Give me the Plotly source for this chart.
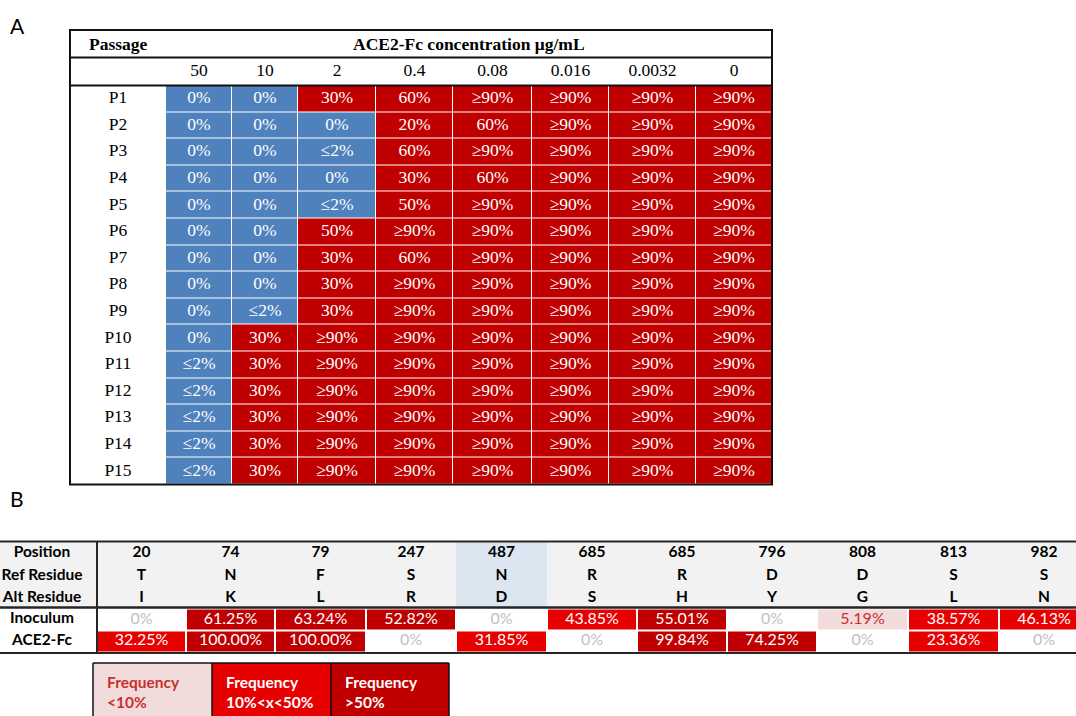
import plotly.graph_objects as go

# ---------------- Panel A: CPE per passage and ACE2-Fc concentration ----------------
concentrations = ["50", "10", "2", "0.4", "0.08", "0.016", "0.0032", "0"]
passages = ["P1", "P2", "P3", "P4", "P5", "P6", "P7", "P8",
            "P9", "P10", "P11", "P12", "P13", "P14", "P15"]
cpe_p1 = ["0%", "0%", "30%", "60%", "≥90%", "≥90%", "≥90%", "≥90%"]
cpe_p2 = ["0%", "0%", "0%", "20%", "60%", "≥90%", "≥90%", "≥90%"]
cpe_p3 = ["0%", "0%", "≤2%", "60%", "≥90%", "≥90%", "≥90%", "≥90%"]
cpe_p4 = ["0%", "0%", "0%", "30%", "60%", "≥90%", "≥90%", "≥90%"]
cpe_p5 = ["0%", "0%", "≤2%", "50%", "≥90%", "≥90%", "≥90%", "≥90%"]
cpe_p6 = ["0%", "0%", "50%", "≥90%", "≥90%", "≥90%", "≥90%", "≥90%"]
cpe_p7 = ["0%", "0%", "30%", "60%", "≥90%", "≥90%", "≥90%", "≥90%"]
cpe_p8 = ["0%", "0%", "30%", "≥90%", "≥90%", "≥90%", "≥90%", "≥90%"]
cpe_p9 = ["0%", "≤2%", "30%", "≥90%", "≥90%", "≥90%", "≥90%", "≥90%"]
cpe_p10 = ["0%", "30%", "≥90%", "≥90%", "≥90%", "≥90%", "≥90%", "≥90%"]
cpe_p11 = ["≤2%", "30%", "≥90%", "≥90%", "≥90%", "≥90%", "≥90%", "≥90%"]
cpe_p12 = ["≤2%", "30%", "≥90%", "≥90%", "≥90%", "≥90%", "≥90%", "≥90%"]
cpe_p13 = ["≤2%", "30%", "≥90%", "≥90%", "≥90%", "≥90%", "≥90%", "≥90%"]
cpe_p14 = ["≤2%", "30%", "≥90%", "≥90%", "≥90%", "≥90%", "≥90%", "≥90%"]
cpe_p15 = ["≤2%", "30%", "≥90%", "≥90%", "≥90%", "≥90%", "≥90%", "≥90%"]
cpe_table = [cpe_p1, cpe_p2, cpe_p3, cpe_p4, cpe_p5, cpe_p6, cpe_p7, cpe_p8,
             cpe_p9, cpe_p10, cpe_p11, cpe_p12, cpe_p13, cpe_p14, cpe_p15]
protected_values = ["0%", "≤2%"]

# ---------------- Panel B: variant frequencies ----------------
positions = ["20", "74", "79", "247", "487", "685", "685", "796", "808", "813", "982"]
ref_residues = ["T", "N", "F", "S", "N", "R", "R", "D", "D", "S", "S"]
alt_residues = ["I", "K", "L", "R", "D", "S", "H", "Y", "G", "L", "N"]
inoculum_freq = [0, 61.25, 63.24, 52.82, 0, 43.85, 55.01, 0, 5.19, 38.57, 46.13]
ace2fc_freq = [32.25, 100.00, 100.00, 0, 31.85, 0, 99.84, 74.25, 0, 23.36, 0]
sample_names = ["Inoculum", "ACE2-Fc"]
header_names = ["Position", "Ref Residue", "Alt Residue"]
highlight_position = "487"
legend_labels = ["Frequency<br>&lt;10%", "Frequency<br>10%&lt;x&lt;50%", "Frequency<br>&gt;50%"]

# ---------------- styles ----------------
BLUE = "#4F81BD"
DARK_RED = "#C00000"
RED = "#E60000"
PINK = "#F2DCDB"
PINK_TEXT = "#C8302C"
ZERO_TEXT = "#BFBFBF"
HEADER_GRAY = "#F2F2F2"
HEADER_BLUE = "#DCE6F1"
LINE = "#262626"
SERIF = "Liberation Serif"
SANS = "Lato"
SERIF_SIZE = 17.5

W, H = 1076, 716

# panel A geometry (pixel units on the data axes)
A_LEFT, A_RIGHT = 70, 772
A_TOP, A_HDR1, A_HDR2, A_BOTTOM = 30, 57.5, 85.5, 484.5
A_COL_EDGES = [166, 232, 298, 376, 453, 532, 609, 696, 772]
A_ROW_H = (A_BOTTOM - A_HDR2) / len(passages)
A_ROW_EDGES = [A_HDR2 + i * A_ROW_H for i in range(len(passages) + 1)]
A_LABEL_X = (A_LEFT + A_COL_EDGES[0]) / 2

# panel B geometry
B_LABEL_X = 42
B_COL_EDGES = [97, 186, 275, 366, 456, 547, 637, 727, 817, 908, 999, 1089]
B_TOP, B_HDR_BOTTOM, B_BOTTOM = 541.5, 607.5, 653
B_HDR_ROWS_Y = [553, 576, 598]
B_ROW_EDGES = [608.5, 630.5, 652]

# legend geometry
L_COL_EDGES = [93, 212, 331, 449]
L_ROW_EDGES = [663, 740]


def centers(edges):
    return [(a + b) / 2 for a, b in zip(edges[:-1], edges[1:])]


def freq_bin(v):
    if v == 0:
        return 0
    if v < 10:
        return 1
    if v < 50:
        return 2
    return 3


def freq_text(v):
    return "0%" if v == 0 else f"{v:.2f}%"


def freq_text_color(v):
    b = freq_bin(v)
    return ZERO_TEXT if b == 0 else (PINK_TEXT if b == 1 else "white")


freq_scale = [[0, "white"], [1 / 3, PINK], [2 / 3, RED], [1, DARK_RED]]

fig = go.Figure()

# ---- panel A cells ----
a_codes = [[0 if v in protected_values else 1 for v in row] for row in cpe_table]
fig.add_trace(go.Heatmap(
    x=A_COL_EDGES, y=A_ROW_EDGES, z=a_codes,
    colorscale=[[0, BLUE], [1, DARK_RED]], zmin=0, zmax=1,
    xgap=1, ygap=1, showscale=False, hoverinfo="skip"))

a_cx = centers(A_COL_EDGES)
a_cy = centers(A_ROW_EDGES)
tx, ty, tt = [], [], []
for r, row in enumerate(cpe_table):
    for c, v in enumerate(row):
        tx.append(a_cx[c]); ty.append(a_cy[r]); tt.append(v)
fig.add_trace(go.Scatter(x=tx, y=ty, text=tt, mode="text",
                         textfont=dict(family=SERIF, size=SERIF_SIZE, color="white"),
                         hoverinfo="skip", showlegend=False))
# row labels
fig.add_trace(go.Scatter(x=[A_LABEL_X] * len(passages), y=a_cy, text=passages, mode="text",
                         textfont=dict(family=SERIF, size=SERIF_SIZE, color="black"),
                         hoverinfo="skip", showlegend=False))
# concentration labels
fig.add_trace(go.Scatter(x=a_cx, y=[(A_HDR1 + A_HDR2) / 2] * len(concentrations),
                         text=concentrations, mode="text",
                         textfont=dict(family=SERIF, size=SERIF_SIZE, color="black"),
                         hoverinfo="skip", showlegend=False))

# ---- panel B header background ----
shapes = []
shapes.append(dict(type="rect", x0=0, x1=W, y0=B_TOP, y1=B_HDR_BOTTOM,
                   fillcolor=HEADER_GRAY, line=dict(width=0), layer="below"))
hi = positions.index(highlight_position)
shapes.append(dict(type="rect", x0=B_COL_EDGES[hi], x1=B_COL_EDGES[hi + 1],
                   y0=B_TOP, y1=B_HDR_BOTTOM, fillcolor=HEADER_BLUE,
                   line=dict(width=0), layer="below"))

# ---- panel B cells ----
b_rows = [inoculum_freq, ace2fc_freq]
fig.add_trace(go.Heatmap(
    x=B_COL_EDGES, y=B_ROW_EDGES, z=[[freq_bin(v) for v in row] for row in b_rows],
    colorscale=freq_scale, zmin=0, zmax=3,
    xgap=2, ygap=2, showscale=False, hoverinfo="skip"))

b_cx = centers(B_COL_EDGES)
b_cy = centers(B_ROW_EDGES)
groups = {}
for r, row in enumerate(b_rows):
    for c, v in enumerate(row):
        g = groups.setdefault(freq_text_color(v), ([], [], []))
        g[0].append(b_cx[c]); g[1].append(b_cy[r]); g[2].append(freq_text(v))
for color, (gx, gy, gt) in groups.items():
    fig.add_trace(go.Scatter(x=gx, y=gy, text=gt, mode="text",
                             textfont=dict(family=SANS, size=16, color=color),
                             hoverinfo="skip", showlegend=False))

# header rows (position / ref / alt)
for y, vals in zip(B_HDR_ROWS_Y, [positions, ref_residues, alt_residues]):
    fig.add_trace(go.Scatter(x=b_cx, y=[y] * len(vals), text=vals, mode="text",
                             textfont=dict(family=SANS, size=15.5, color="black", weight="bold"),
                             hoverinfo="skip", showlegend=False))
fig.add_trace(go.Scatter(x=[B_LABEL_X] * 3, y=B_HDR_ROWS_Y, text=header_names, mode="text",
                         textfont=dict(family=SANS, size=15.5, color="black", weight="bold"),
                         hoverinfo="skip", showlegend=False))
fig.add_trace(go.Scatter(x=[B_LABEL_X] * 2, y=b_cy, text=sample_names, mode="text",
                         textfont=dict(family=SANS, size=15.5, color="black", weight="bold"),
                         hoverinfo="skip", showlegend=False))

# ---- colour key ----
fig.add_trace(go.Heatmap(
    x=L_COL_EDGES, y=L_ROW_EDGES, z=[[1, 2, 3]],
    colorscale=freq_scale, zmin=0, zmax=3, showscale=False, hoverinfo="skip"))
for i, lab in enumerate(legend_labels):
    fig.add_trace(go.Scatter(
        x=[L_COL_EDGES[i] + 14], y=[694], text=[lab], mode="text",
        textposition="middle right",
        textfont=dict(family=SANS, size=15.5, color=PINK_TEXT if i == 0 else "white", weight="bold"),
        hoverinfo="skip", showlegend=False))

# ---- rules and borders ----
def hline(y, x0, x1, w=1.5, color=LINE):
    shapes.append(dict(type="line", x0=x0, x1=x1, y0=y, y1=y, line=dict(color=color, width=w)))


def vline(x, y0, y1, w=1.5, color=LINE):
    shapes.append(dict(type="line", x0=x, x1=x, y0=y0, y1=y1, line=dict(color=color, width=w)))


shapes.append(dict(type="rect", x0=A_LEFT, x1=A_RIGHT, y0=A_TOP, y1=A_BOTTOM,
                   line=dict(color="#111111", width=2)))
hline(A_HDR1, A_LEFT, A_RIGHT, 2, "#111111")
hline(A_HDR2, A_LEFT, A_RIGHT, 2, "#111111")

hline(B_TOP, 0, W, 2)
hline(B_HDR_BOTTOM, 0, W, 2.5)
hline(B_BOTTOM, 0, W, 2)
vline(B_COL_EDGES[0], B_TOP, B_BOTTOM, 2)

for x in L_COL_EDGES:
    vline(x, L_ROW_EDGES[0], L_ROW_EDGES[1], 1.5, "#111111")
hline(L_ROW_EDGES[0], L_COL_EDGES[0], L_COL_EDGES[-1], 1.5, "#111111")

annotations = [
    dict(x=(A_LEFT + A_COL_EDGES[0]) / 2, y=(A_TOP + A_HDR1) / 2, text="Passage", showarrow=False,
         font=dict(family=SERIF, size=SERIF_SIZE, color="black", weight="bold")),
    dict(x=(A_COL_EDGES[0] + A_RIGHT) / 2, y=(A_TOP + A_HDR1) / 2,
         text="ACE2-Fc concentration μg/mL", showarrow=False,
         font=dict(family=SERIF, size=SERIF_SIZE, color="black", weight="bold")),
    dict(x=17, y=25, text="A", showarrow=False, font=dict(family=SANS, size=21, color="black")),
    dict(x=17, y=498, text="B", showarrow=False, font=dict(family=SANS, size=21, color="black")),
]

fig.update_layout(
    width=W, height=H, autosize=False,
    margin=dict(l=0, r=0, t=0, b=0, pad=0),
    paper_bgcolor="white", plot_bgcolor="white",
    shapes=shapes, annotations=annotations, showlegend=False,
)
fig.update_xaxes(range=[0, W], visible=False, fixedrange=True)
fig.update_yaxes(range=[H, 0], visible=False, fixedrange=True)

fig.write_html("out.html", config={"displayModeBar": False})
